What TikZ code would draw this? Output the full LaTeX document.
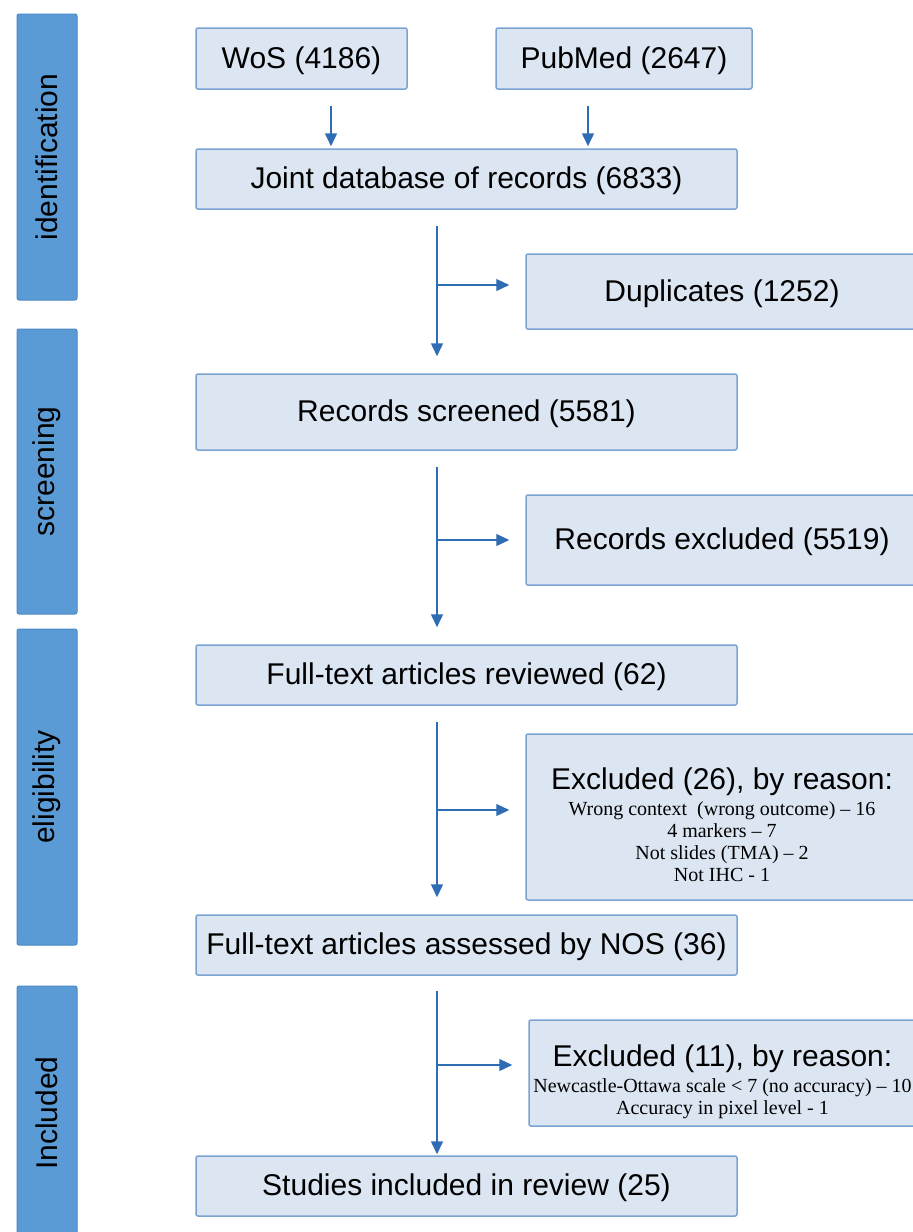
\documentclass[tikz,border=0pt]{standalone}
\usepackage{fontspec}
\setmainfont{Liberation Sans}
\newfontfamily\serifreason{Liberation Serif}
\usetikzlibrary{arrows.meta,calc}
\definecolor{boxfill}{HTML}{DCE6F2}
\definecolor{boxline}{HTML}{7AA3D2}
\definecolor{barfill}{HTML}{5B9BD5}
\definecolor{barline}{HTML}{4A89C8}
\definecolor{arrowc}{HTML}{2E6DB4}
\begin{document}
\begin{tikzpicture}[x=1pt,y=-1pt,
  stagebox/.style={draw=boxline, fill=boxfill, line width=1.5pt, rounded corners=2pt,
    inner sep=0pt, text height=22pt, text depth=3pt, font=\fontsize{30}{34}\selectfont},
  plainbox/.style={draw=boxline, fill=boxfill, line width=1.5pt, rounded corners=2pt, inner sep=0pt},
  phasebar/.style={draw=barline, fill=barfill, line width=1pt, rounded corners=2pt,
    inner sep=0pt, rotate=90, minimum height=60pt, font=\fontsize{30}{34}\selectfont},
  reasontext/.style={align=center, inner sep=0pt, font=\serifreason\fontsize{20}{22}\selectfont},
  flow/.style={draw=arrowc, line width=1.5pt, -{Triangle[length=13pt,width=12pt]}},
  sideflow/.style={draw=arrowc, line width=1.2pt, -{Triangle[length=13pt,width=12pt]}}
]
\useasboundingbox (0,0) rectangle (913,1232);

% phase bars
\node[phasebar, minimum width=286pt] (idbar) at (47,157) {identification};
\node[phasebar, minimum width=285pt] (scbar) at (47,471.5) {screening};
\node[phasebar, minimum width=316pt] (elbar) at (47,787) {eligibility};
\node[phasebar, minimum width=254pt] (inbar) at (47,1113) {Included};

% main boxes
\node[stagebox, minimum width=211pt, minimum height=61pt] (wos) at (301.5,58.5) {WoS (4186)};
\node[stagebox, minimum width=256pt, minimum height=61pt] (pub) at (624,58.5) {PubMed (2647)};
\node[stagebox, minimum width=541pt, minimum height=60pt] (joint) at (466.5,179) {Joint database of records (6833)};
\node[stagebox, minimum width=392pt, minimum height=75pt] (dup) at (722,291.5) {Duplicates (1252)};
\node[stagebox, minimum width=541pt, minimum height=76pt] (screened) at (466.5,412) {Records screened (5581)};
\node[stagebox, minimum width=392pt, minimum height=90pt] (excl) at (722,540) {Records excluded (5519)};
\node[stagebox, minimum width=541pt, minimum height=60pt] (fulltext) at (466.5,675) {Full-text articles reviewed (62)};
\node[plainbox, minimum width=392pt, minimum height=166pt] (exa) at (722,817) {};
\node[reasontext] (exatext) at (722,825) {{\rmfamily\fontsize{30}{34}\selectfont Excluded (26), by reason:}\\[4pt]
  Wrong context~ (wrong outcome) – 16\\ 4 markers – 7\\ Not slides (TMA) – 2\\ Not IHC - 1};
\node[stagebox, minimum width=541pt, minimum height=60pt] (assessed) at (466.5,945) {Full-text articles assessed by NOS (36)};
\node[plainbox, minimum width=389pt, minimum height=106pt] (exb) at (723.5,1073) {};
\node[reasontext] (exbtext) at (722.5,1082) {{\rmfamily\fontsize{30}{34}\selectfont Excluded (11), by reason:}\\[4pt]
  Newcastle-Ottawa scale < 7 (no accuracy) – 10\\ Accuracy in pixel level - 1};
\node[stagebox, minimum width=541pt, minimum height=60pt] (studies) at (466.5,1186) {Studies included in review (25)};

% columns and branch points
\coordinate (cw) at (331,0);
\coordinate (cp) at (588,0);
\coordinate (sp) at (437,0);
\coordinate (b1) at (437,285);
\coordinate (b2) at (437,540);
\coordinate (b3) at (437,810);
\coordinate (b4) at (437,1065);

% connectors
\draw[flow] ($(wos.south -| cw)+(0,16)$) -- ($(joint.north -| cw)+(0,-2)$);
\draw[flow] ($(pub.south -| cp)+(0,16)$) -- ($(joint.north -| cp)+(0,-2)$);

\draw[flow] ($(joint.south -| sp)+(0,16)$) -- ($(screened.north -| sp)+(0,-17)$);
\draw[sideflow] (b1) -- ($(b1 -| dup.west)+(-16,0)$);

\draw[flow] ($(screened.south -| sp)+(0,16)$) -- ($(fulltext.north -| sp)+(0,-17)$);
\draw[sideflow] (b2) -- ($(b2 -| excl.west)+(-16,0)$);

\draw[flow] ($(fulltext.south -| sp)+(0,16)$) -- ($(assessed.north -| sp)+(0,-17)$);
\draw[sideflow] (b3) -- ($(b3 -| exa.west)+(-16,0)$);

\draw[flow] ($(assessed.south -| sp)+(0,15)$) -- ($(studies.north -| sp)+(0,-1)$);
\draw[sideflow] (b4) -- ($(b4 -| exb.west)+(-16,0)$);
\end{tikzpicture}
\end{document}
